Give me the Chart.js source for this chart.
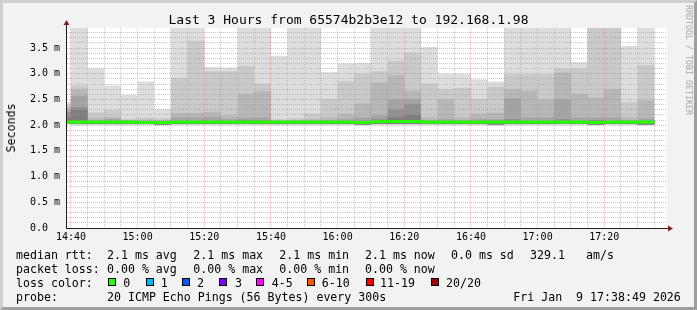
<!DOCTYPE html>
<html>
<head>
<meta charset="utf-8">
<script src="https://cdn.jsdelivr.net/npm/chart.js@4.4.1/dist/chart.umd.min.js"></script>
<style>
  body { margin: 0; background: #f2f2f2; }
  #wrap { position: relative; width: 697px; height: 310px; background: #f2f2f2; overflow: hidden;
          font-family: 'DejaVu Sans Mono', monospace; color: #000; }
  #c { position: absolute; left: 0; top: 0; }
  .t { position: absolute; white-space: pre; font-size: 11.6px; line-height: 14px; }
  .title { position: absolute; left: 0; width: 697px; top: 11.7px; text-align: center;
           font-size: 13px; line-height: 16px; white-space: pre; }
  .ylab { position: absolute; left: 11px; top: 128px; font-size: 11.6px; line-height: 14px;
          transform: translate(-50%, -50%) rotate(-90deg); white-space: pre; }
  .mark { position: absolute; left: 689px; top: 60px; font-size: 8.3px; line-height: 10px; color: #a8a8a8;
          transform: translate(-50%, -50%) rotate(90deg); white-space: pre; }
  .box { position: absolute; width: 8px; height: 8px; box-sizing: border-box; border: 1px solid #000; }
  #frame { position: absolute; left: 0; top: 0; width: 697px; height: 310px; box-sizing: border-box;
           border: 3px solid; border-color: #cfcfcf #9e9e9e #9e9e9e #cfcfcf; pointer-events: none; }
</style>
</head>
<body>
<div id="wrap">
  <canvas id="c" width="697" height="310"></canvas>
  <div class="title">Last 3 Hours from 65574b2b3e12 to 192.168.1.98</div>
  <div class="ylab">Seconds</div>
  <div class="mark">RRDTOOL / TOBI OETIKER</div>
  <div id="legend"></div>
  <div id="frame"></div>
</div>
<script>
// smokeping style graph: grey smoke bands per 5 min bin + median line on top

// bin start times (first one is only partly visible)
const binStarts = ['14:35', '14:40', '14:45', '14:50', '14:55', '15:00', '15:05', '15:10', '15:15',
  '15:20', '15:25', '15:30', '15:35', '15:40', '15:45', '15:50', '15:55', '16:00', '16:05', '16:10',
  '16:15', '16:20', '16:25', '16:30', '16:35', '16:40', '16:45', '16:50', '16:55', '17:00', '17:05',
  '17:10', '17:15', '17:20', '17:25', '17:30'];

// sorted ping values in ms, outermost first (20th, 19th, ...)
const ping20 = [2.45, 4.2, 3.10, 2.77, 2.59, 2.85, 2.31, 4.2, 4.2, 3.13, 3.12, 4.2, 4.2, 3.35, 4.2, 4.2,
  3.03, 3.20, 3.21, 4.2, 4.2, 4.2, 3.52, 3.00, 3.00, 2.89, 2.85, 4.2, 4.2, 4.2, 4.2, 3.23, 4.2, 4.2, 3.54, 4.2];
const ping19 = [2.40, 2.77, 2.25, 2.29, 2.13, 2.15, 2.14, 2.92, 3.64, 3.05, 3.05, 3.15, 2.81, 2.12, 2.14, 2.22,
  2.51, 2.86, 3.00, 3.05, 3.25, 3.41, 2.81, 2.70, 2.72, 2.51, 2.75, 2.99, 2.99, 2.99, 3.10, 3.10, 4.2, 4.2, 2.45, 3.17];
const ping18 = [2.35, 2.70, 2.15, 2.16, 2.10, 2.11, 2.10, 2.24, 2.24, 2.26, 2.19, 2.61, 2.66, 2.09, 2.10, 2.12,
  2.15, 2.22, 2.42, 2.83, 2.97, 2.67, 2.15, 2.50, 2.15, 2.22, 2.24, 2.70, 2.67, 2.50, 3.02, 2.61, 2.54, 2.70, 2.15, 2.48];
const ping17 = [2.30, 2.57, 2.10, 2.12, 2.08, 2.08, 2.08, 2.15, 2.15, 2.16, 2.12, 2.14, 2.15, 2.08, 2.08, 2.09,
  2.10, 2.12, 2.15, 2.19, 2.50, 2.50, 2.10, 2.12, 2.10, 2.12, 2.12, 2.52, 2.15, 2.15, 2.50, 2.15, 2.15, 2.15, 2.10, 2.13];
const ping16 = [2.25, 2.35, 2.07, 2.07, 2.07, 2.07, 2.07, 2.07, 2.07, 2.07, 2.07, 2.10, 2.10, 2.07, 2.07, 2.07,
  2.07, 2.07, 2.07, 2.12, 2.31, 2.41, 2.07, 2.07, 2.07, 2.07, 2.07, 2.12, 2.07, 2.07, 2.12, 2.07, 2.10, 2.07, 2.07, 2.07];
const ping15 = [2.15, 2.30, 2.07, 2.07, 2.07, 2.07, 2.07, 2.07, 2.07, 2.07, 2.07, 2.07, 2.07, 2.07, 2.07, 2.07,
  2.07, 2.07, 2.07, 2.07, 2.15, 2.20, 2.07, 2.07, 2.07, 2.07, 2.07, 2.07, 2.07, 2.07, 2.07, 2.07, 2.07, 2.07, 2.07, 2.07];
const pingLow = [2.03, 2.02, 2.02, 2.02, 2.02, 2.02, 2.01, 2.02, 2.02, 2.02, 2.02, 2.02, 2.02, 2.02, 2.02, 2.02,
  2.02, 2.02, 2.01, 2.02, 2.02, 2.02, 2.02, 2.02, 2.02, 2.02, 2.01, 2.02, 2.02, 2.02, 2.02, 2.02, 2.01, 2.02, 2.02, 2.01];
const medianRtt = [2.06, 2.06, 2.06, 2.06, 2.06, 2.055, 2.05, 2.06, 2.06, 2.06, 2.06, 2.06, 2.06, 2.06, 2.06, 2.06,
  2.06, 2.06, 2.055, 2.065, 2.07, 2.07, 2.06, 2.06, 2.06, 2.06, 2.06, 2.06, 2.06, 2.06, 2.06, 2.06, 2.055, 2.06, 2.06, 2.06];

const xTickLabels = ['14:40', '15:00', '15:20', '15:40', '16:00', '16:20', '16:40', '17:00', '17:20'];
const yTickLabels = ['0.0  ', '0.5 m', '1.0 m', '1.5 m', '2.0 m', '2.5 m', '3.0 m', '3.5 m'];

const lossLabels = ['0', '1', '2', '3', '4-5', '6-10', '11-19', '20/20'];
const lossColors = ['#26ff00', '#00b8ff', '#0059ff', '#7e00ff', '#ff00ff', '#ff5500', '#ff0000', '#a10000'];

const smokeShades = ['#dddddd', '#cacaca', '#b7b7b7', '#a4a4a4', '#919191', '#7e7e7e'];

// time axis in minutes relative to 14:40, window is 14:38:49 .. 17:38:49
const toMin = (t) => { const [h, m] = t.split(':').map(Number); return h * 60 + m - (14 * 60 + 40); };
const X_MIN = -71 / 60;
const X_MAX = X_MIN + 180;
const Y_MAX = 3.889;

const GRID = 'rgba(150,150,150,0.5)';
const MGRID = 'rgba(225,90,90,0.45)';

const barBase = { type: 'bar', grouped: false, barPercentage: 1, categoryPercentage: 1, borderWidth: 0,
  inflateAmount: 0, clip: 0 };

const smokeSets = [ping20, ping19, ping18, ping17, ping16, ping15].map((tops, k) => ({
  ...barBase,
  label: 'smoke' + k,
  order: 20 - k,
  backgroundColor: smokeShades[k],
  data: binStarts.map((t, i) => ({ x: toMin(t) + 2.5, y: [pingLow[i], tops[i]] }))
}));

const medianSet = {
  ...barBase,
  label: 'median',
  order: 0,
  backgroundColor: lossColors[0],
  data: binStarts.map((t, i) => ({ x: toMin(t) + 2.5, y: [medianRtt[i] - 0.026, medianRtt[i] + 0.026] }))
};

// grid goes over the smoke, so paint median + axes again at the end
const finishPlugin = {
  id: 'finish',
  beforeDraw(chart) {
    const { ctx, chartArea: a } = chart;
    ctx.save();
    ctx.fillStyle = '#ffffff';
    ctx.fillRect(a.left, a.top, a.right - a.left, a.bottom - a.top);
    ctx.restore();
  },
  afterDraw(chart) {
    const { ctx, chartArea: a } = chart;
    const meta = chart.getDatasetMeta(chart.data.datasets.length - 1);
    ctx.save();
    ctx.beginPath();
    ctx.rect(a.left, a.top, a.right - a.left, a.bottom - a.top);
    ctx.clip();
    meta.data.forEach(el => el.draw(ctx));
    ctx.restore();

    ctx.save();
    ctx.strokeStyle = '#1f1f1f';
    ctx.lineWidth = 1;
    ctx.beginPath();
    ctx.moveTo(a.left - 0.5, a.bottom + 0.5);
    ctx.lineTo(a.left - 0.5, a.top - 4);
    ctx.moveTo(a.left - 1, a.bottom + 0.5);
    ctx.lineTo(a.right + 1, a.bottom + 0.5);
    ctx.stroke();
    ctx.fillStyle = '#801f1f';
    ctx.beginPath();
    ctx.moveTo(a.left - 3.5, a.top - 3);
    ctx.lineTo(a.left + 2.5, a.top - 3);
    ctx.lineTo(a.left - 0.5, a.top - 8);
    ctx.closePath();
    ctx.fill();
    ctx.beginPath();
    ctx.moveTo(a.right + 1, a.bottom - 2.5);
    ctx.lineTo(a.right + 1, a.bottom + 3.5);
    ctx.lineTo(a.right + 6, a.bottom + 0.5);
    ctx.closePath();
    ctx.fill();
    ctx.restore();
  }
};

const tickFont = { family: 'DejaVu Sans Mono', size: 10 };

new Chart(document.getElementById('c'), {
  type: 'bar',
  data: { datasets: [...smokeSets, medianSet] },
  plugins: [finishPlugin],
  options: {
    responsive: false,
    animation: false,
    events: [],
    layout: { padding: { left: 0, top: 28, right: 30, bottom: 0 } },
    plugins: { legend: { display: false }, tooltip: { enabled: false } },
    scales: {
      x: {
        type: 'linear',
        min: X_MIN,
        max: X_MAX,
        offset: false,
        afterBuildTicks: (s) => {
          const ticks = [];
          for (let m = 0; m <= 175; m += 5) ticks.push({ value: m });
          s.ticks = ticks;
        },
        afterFit: (s) => { s.height = 82; },
        grid: {
          offset: false, z: 1, drawTicks: false, lineWidth: 1,
          color: (c) => (c.tick && c.tick.value % 20 === 0 ? MGRID : GRID)
        },
        border: { display: false, dash: [1, 1] },
        ticks: {
          autoSkip: false, maxRotation: 0, padding: 3, color: '#000', font: tickFont,
          callback: (v) => (v % 20 === 0 ? xTickLabels[v / 20] : '')
        }
      },
      y: {
        type: 'linear',
        min: 0,
        max: Y_MAX,
        afterBuildTicks: (s) => {
          const ticks = [];
          for (let i = 0; i <= 38; i++) ticks.push({ value: i / 10 });
          s.ticks = ticks;
        },
        afterFit: (s) => { s.width = 67; },
        grid: {
          z: 1, drawTicks: false, lineWidth: 1,
          color: (c) => (c.tick && Math.round(c.tick.value * 10) % 5 === 0 ? MGRID : GRID)
        },
        border: { display: false, dash: [1, 1] },
        ticks: {
          autoSkip: false, padding: 7, color: '#000', font: tickFont,
          callback: (v) => {
            const k = Math.round(v * 10);
            return k % 5 === 0 ? yTickLabels[k / 5] : '';
          }
        }
      }
    }
  }
});

// text legend under the graph
const legend = document.getElementById('legend');
const addText = (x, top, str) => {
  const d = document.createElement('div');
  d.className = 't';
  d.style.left = x + 'px';
  d.style.top = top + 'px';
  d.textContent = str;
  legend.appendChild(d);
};
const rows = [247.5, 261.5, 275.5, 289.5];

[[16, 'median rtt:'], [107, '2.1 ms avg'], [193.3, '2.1 ms max'], [279.3, '2.1 ms min'],
 [365, '2.1 ms now'], [451, '0.0 ms sd'], [530, '329.1'], [586, 'am/s']]
  .forEach(([x, s]) => addText(x, rows[0], s));
[[16, 'packet loss:'], [107, '0.00 % avg'], [193.3, '0.00 % max'], [279.3, '0.00 % min'], [365, '0.00 % now']]
  .forEach(([x, s]) => addText(x, rows[1], s));

addText(16, rows[2], 'loss color:');
const boxX = [108, 146, 182, 219, 256, 307, 365.7, 430.7];
const labelX = [123.3, 160.7, 197, 235, 271.7, 321.7, 380, 446];
lossLabels.forEach((lab, i) => {
  const b = document.createElement('div');
  b.className = 'box';
  b.style.left = boxX[i] + 'px';
  b.style.top = '278px';
  b.style.background = lossColors[i];
  legend.appendChild(b);
  addText(labelX[i], rows[2], lab);
});

[[16, 'probe:'], [107, '20 ICMP Echo Pings (56 Bytes) every 300s'], [513.3, 'Fri Jan  9 17:38:49 2026']]
  .forEach(([x, s]) => addText(x, rows[3], s));
</script>
</body>
</html>
